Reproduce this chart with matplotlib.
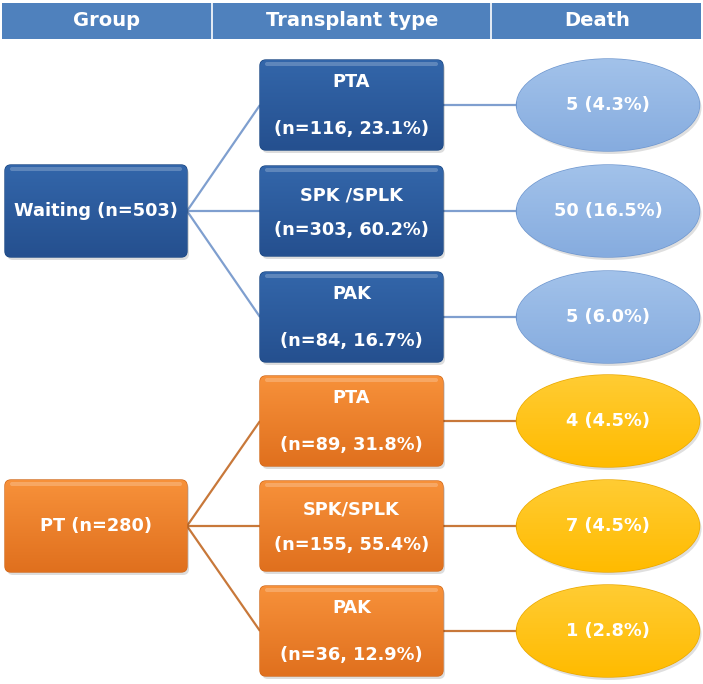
import matplotlib
matplotlib.use("Agg")
import matplotlib.pyplot as plt
from matplotlib.patches import FancyBboxPatch, Ellipse, Rectangle
from matplotlib.colors import LinearSegmentedColormap
import numpy as np

plt.rcParams['font.family'] = ['DejaVu Sans']

# data
headers = ["Group", "Transplant type", "Death"]
groups = ["Waiting (n=503)", "PT (n=280)"]
types = ["PTA", "SPK /SPLK", "PAK", "PTA", "SPK/SPLK", "PAK"]
type_n = [116, 303, 84, 89, 155, 36]
type_pct = [23.1, 60.2, 16.7, 31.8, 55.4, 12.9]
deaths = [5, 50, 5, 4, 7, 1]
death_pct = [4.3, 16.5, 6.0, 4.5, 4.5, 2.8]

W, H = 703, 684
fig = plt.figure(figsize=(W / 100, H / 100), dpi=100)
ax = fig.add_axes([0, 0, 1, 1])
ax.set_xlim(0, W)
ax.set_ylim(H, 0)
ax.axis('off')

# colour sets for the two groups
styles = [
    dict(top="#3366aa", bot="#25508f", edge="#1d4a85", line="#7f9fcf",
         etop="#a2c2ea", ebot="#86acdf", eedge="#6f97cf"),
    dict(top="#f7913a", bot="#e0701e", edge="#d26a1c", line="#c8783a",
         etop="#ffcc33", ebot="#ffbb00", eedge="#eaa800"),
]


def gradient_fill(patch, c_top, c_bot, x0, x1, y0, y1, z):
    cmap = LinearSegmentedColormap.from_list("g", [c_top, c_bot])
    grad = np.linspace(0, 1, 100).reshape(-1, 1)
    im = ax.imshow(grad, cmap=cmap, extent=(x0, x1, y1, y0), origin='upper',
                   aspect='auto', zorder=z, interpolation='bicubic')
    im.set_clip_path(patch)


def rbox(x0, y0, w, h, st, z=3):
    shadow = FancyBboxPatch((x0 + 2, y0 + 3), w, h, boxstyle="round,pad=0,rounding_size=6",
                            fc="#00000022", ec="none", zorder=z - 1)
    ax.add_patch(shadow)
    p = FancyBboxPatch((x0, y0), w, h, boxstyle="round,pad=0,rounding_size=6",
                       fc=st["bot"], ec=st["edge"], lw=1.0, zorder=z)
    ax.add_patch(p)
    gradient_fill(p, st["top"], st["bot"], x0, x0 + w, y0, y0 + h, z + 0.1)
    # top highlight band
    hl = FancyBboxPatch((x0 + 5, y0 + 2), w - 10, 4, boxstyle="round,pad=0,rounding_size=2",
                        fc="#ffffff38", ec="none", zorder=z + 0.2)
    ax.add_patch(hl)


def ellipse(cx, cy, w, h, st, z=3):
    sh = Ellipse((cx + 2, cy + 3), w, h, fc="#00000020", ec="none", zorder=z - 1)
    ax.add_patch(sh)
    e = Ellipse((cx, cy), w, h, fc=st["ebot"], ec=st["eedge"], lw=1.0, zorder=z)
    ax.add_patch(e)
    gradient_fill(e, st["etop"], st["ebot"], cx - w / 2, cx + w / 2, cy - h / 2, cy + h / 2, z + 0.1)


# header
ax.add_patch(Rectangle((2, 3), W - 4, 36, fc="#4f81bd", ec="none", zorder=1))
for xd in [212, 491]:
    ax.plot([xd, xd], [3, 39], color="white", lw=1.2, zorder=2)
for cx, t in zip([106, 352, 597], headers):
    ax.text(cx, 21, t, color="white", fontsize=14, fontweight="bold",
            ha="center", va="center", zorder=3)

# layout
gx0, gw = 5, 182
tx0, tw = 260, 183
ecx, ew, eh = 608, 183, 92
row_h = 90
row_c = [105, 211, 317, 421, 526, 631]
fs = 12.75

for g in range(2):
    st = styles[g]
    rows = row_c[g * 3:(g + 1) * 3]
    gc = rows[1]
    # group box
    rbox(gx0, gc - 46, gw, 92, st)
    ax.text(gx0 + gw / 2, gc, groups[g], color="white", fontsize=fs,
            fontweight="bold", ha="center", va="center", zorder=6)
    for k, rc in enumerate(rows):
        i = g * 3 + k
        # connectors
        ax.plot([gx0 + gw, tx0], [gc, rc], color=st["line"], lw=1.6, zorder=1,
                solid_capstyle="butt")
        ax.plot([tx0 + tw, ecx - ew / 2], [rc, rc], color=st["line"], lw=1.6,
                zorder=1, solid_capstyle="butt")
        rbox(tx0, rc - row_h / 2, tw, row_h, st)
        if k == 1:
            d1, d2 = -16, 19
        else:
            d1, d2 = -23, 24
        ax.text(tx0 + tw / 2, rc + d1, types[i], color="white", fontsize=fs,
                fontweight="bold", ha="center", va="center", zorder=6)
        ax.text(tx0 + tw / 2, rc + d2, "(n={}, {:.1f}%)".format(type_n[i], type_pct[i]),
                color="white", fontsize=fs, fontweight="bold",
                ha="center", va="center", zorder=6)
        ellipse(ecx, rc, ew, eh, st)
        ax.text(ecx, rc, "{} ({:.1f}%)".format(deaths[i], death_pct[i]), color="white",
                fontsize=fs, fontweight="bold", ha="center", va="center", zorder=6)

ax.set_xlim(0, W)
ax.set_ylim(H, 0)
fig.savefig("out.png", dpi=100)
